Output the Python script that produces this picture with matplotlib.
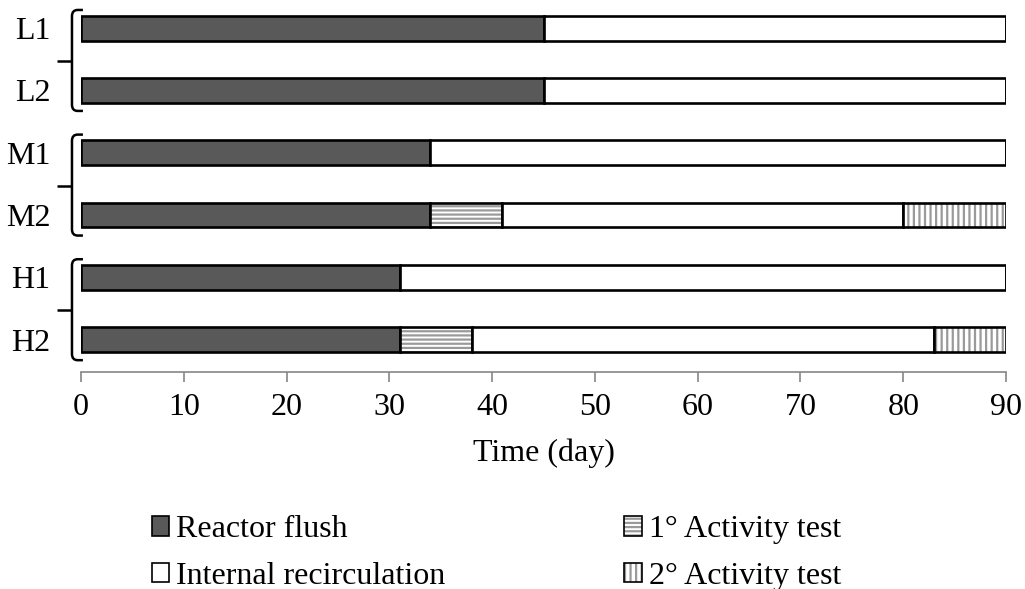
import matplotlib.pyplot as plt
from matplotlib.patches import Patch, PathPatch
from matplotlib.path import Path

plt.rcParams['font.family'] = ['Liberation Serif', 'DejaVu Serif']
plt.rcParams['hatch.linewidth'] = 1.6

# data (days)
reactors = ['L1', 'L2', 'M1', 'M2', 'H1', 'H2']
flush = [45, 45, 34, 34, 31, 31]
test1 = [0, 0, 0, 7, 0, 7]
recirc = [45, 45, 56, 39, 59, 45]
test2 = [0, 0, 0, 10, 0, 7]
groups = [(0, 1), (2, 3), (4, 5)]

fig = plt.figure(figsize=(10.25, 5.89), dpi=100)
ax = fig.add_axes([0.079, 0.3684, 0.9025, 0.6316])

y = list(range(len(reactors)))
h = 0.4
hatch_gray = '#9a9a9a'


def draw_segment(left, width, face, hatch=None):
    if hatch:
        ax.barh(y, width, left=left, height=h, color=face, edgecolor=hatch_gray,
                hatch=hatch, linewidth=0)
    ax.barh(y, width, left=left, height=h, fill=(hatch is None), facecolor=face,
            edgecolor='black', linewidth=1.9)


left = [0] * len(y)
draw_segment(left, flush, '#595959')
left = [a + b for a, b in zip(left, flush)]
draw_segment(left, test1, 'white', '----')
left = [a + b for a, b in zip(left, test1)]
draw_segment(left, recirc, 'white')
left = [a + b for a, b in zip(left, recirc)]
draw_segment(left, test2, 'white', '|||')

ax.set_xlim(0, 90)
ax.set_ylim(5.52, -0.45)
ax.set_xticks(range(0, 91, 10))
ax.set_yticks(y)
ax.set_yticklabels(reactors)
for s in ['top', 'right', 'left']:
    ax.spines[s].set_visible(False)
ax.spines['bottom'].set_color('#868686')
ax.spines['bottom'].set_linewidth(1.2)
ax.tick_params(axis='x', direction='out', length=7, width=1.2, color='#868686',
               labelsize=23, pad=8)
ax.tick_params(axis='y', length=0, labelsize=23, pad=22)
ax.set_xlabel('Time (day)', fontsize=23, labelpad=12)

# braces to the left of each pair
xv, xt, xe, r = -0.876, -2.34, 0.19, 0.55
for a, b in groups:
    top, bot, tip = a - 0.29, b + 0.33, (a + b) / 2 + 0.03
    verts = [(xe, top), (xv + r, top), (xv, top), (xv, top + 0.1),
             (xv, bot - 0.1), (xv, bot), (xv + r, bot), (xe, bot)]
    codes = [Path.MOVETO, Path.LINETO, Path.CURVE3, Path.CURVE3,
             Path.LINETO, Path.CURVE3, Path.CURVE3, Path.LINETO]
    ax.add_patch(PathPatch(Path(verts, codes), fill=False, lw=1.8,
                           edgecolor='black', clip_on=False))
    ax.plot([xt, xv], [tip, tip], color='black', lw=1.8, clip_on=False,
            solid_capstyle='butt')

# legend
handles = [
    Patch(facecolor='#595959', edgecolor='black', linewidth=1.2),
    Patch(facecolor='white', edgecolor='black', linewidth=1.2),
    (Patch(facecolor='white', edgecolor=hatch_gray, hatch='----', linewidth=0),
     Patch(fill=False, edgecolor='black', linewidth=1.2)),
    (Patch(facecolor='white', edgecolor=hatch_gray, hatch='|||', linewidth=0),
     Patch(fill=False, edgecolor='black', linewidth=1.2)),
]
labels = ['Reactor flush', 'Internal recirculation', '1° Activity test', '2° Activity test']
fig.legend(handles, labels, ncol=2, loc='upper left', bbox_to_anchor=(0.148, 0.125),
           frameon=False, fontsize=23, handlelength=0.55, handleheight=0.55,
           handletextpad=0.22, columnspacing=5.6, labelspacing=0.55,
           borderpad=0, borderaxespad=0)

fig.savefig('out.png', dpi=100)
